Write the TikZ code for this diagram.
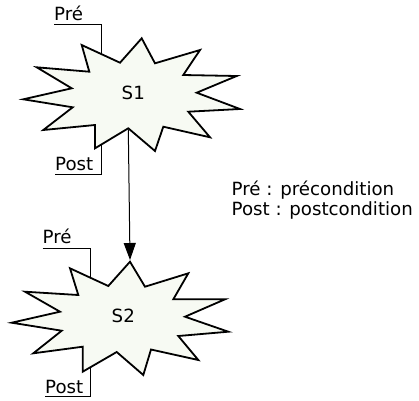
\documentclass[tikz,border=0pt]{standalone}
\usepackage{fontspec}
\setmainfont{DejaVu Sans}
\usetikzlibrary{arrows.meta}
\definecolor{starfill}{RGB}{247,250,243}

\begin{document}
\begin{tikzpicture}[x=1pt, y=-1pt, >={Triangle[length=17pt,width=12pt]},
    star/.style={draw, line width=1.8pt, fill=starfill, line join=miter},
    lbl/.style={inner sep=0pt, anchor=base west, font=\fontsize{18.2}{20}\selectfont},
    brace/.style={line width=0.9pt}]
    \useasboundingbox (0,0) rectangle (419,400);
    \node[lbl] (pre1) at (54,20.7) {Pré};
    \node[lbl] (post1) at (55,170) {Post};
    \node[lbl] (pre2) at (42.5,243.3) {Pré};
    \node[lbl] (post2) at (45,393.3) {Post};
    \coordinate (s1pre) at (101.7,70);
    \coordinate (s1post) at (101.7,135);
    \coordinate (s2pre) at (90,290);
    \coordinate (s2post) at (90,355);
    \draw[brace] ([yshift=-3.3pt]pre1.base west) -| (s1pre);
    \draw[brace] ([yshift=-4pt]post1.base west) -| (s1post);
    \draw[brace] ([yshift=-5pt]pre2.base west) -| (s2pre);
    \draw[brace] ([yshift=-3.4pt]post2.base west) -| (s2post);
    \draw[star] (141.7,38.3) -- (155,63.3) -- (200,50) -- (183.3,75) -- (236.7,76) -- (196.7,92.7)
        -- (240,109) -- (188.3,111.7) -- (210,137.3) -- (163.3,126.7) -- (155,151) -- (128.3,128.3)
        -- (95,148.3) -- (95,125) -- (43.3,130) -- (72.7,107.3) -- (23.3,99.3) -- (71.7,88.3)
        -- (36.7,67.3) -- (89.3,71.7) -- (81.7,45) -- (120,62.7) -- cycle;
    \draw[star] (130,261.7) -- (145,286.7) -- (188.3,273.3) -- (173.3,299.3) -- (225,299.3) -- (185,316.7)
        -- (228.3,331.7) -- (178.3,336) -- (198.3,360) -- (151,349.5) -- (143.3,375) -- (116.7,352)
        -- (82.7,371.7) -- (82.7,346.7) -- (33.3,353.3) -- (61.7,330.7) -- (11.7,322.7) -- (60,311.7)
        -- (25,291.7) -- (78.3,295) -- (70,268.3) -- (108.3,286) -- cycle;
    \node[font=\fontsize{18.2}{20}\selectfont] (s1) at (133.3,93) {S1};
    \node[font=\fontsize{18.2}{20}\selectfont] (s2) at (123.3,316) {S2};
    \coordinate (s1bot) at (128.3,129.5);
    \coordinate (s2top) at (130,260);
    \draw[->, line width=1pt] (s1bot) -- (s2top);
    \node[lbl] (leg1) at (231.5,195) {Pré : précondition};
    \node[lbl] (leg2) at (231.5,215) {Post : postcondition};
\end{tikzpicture}
\end{document}
